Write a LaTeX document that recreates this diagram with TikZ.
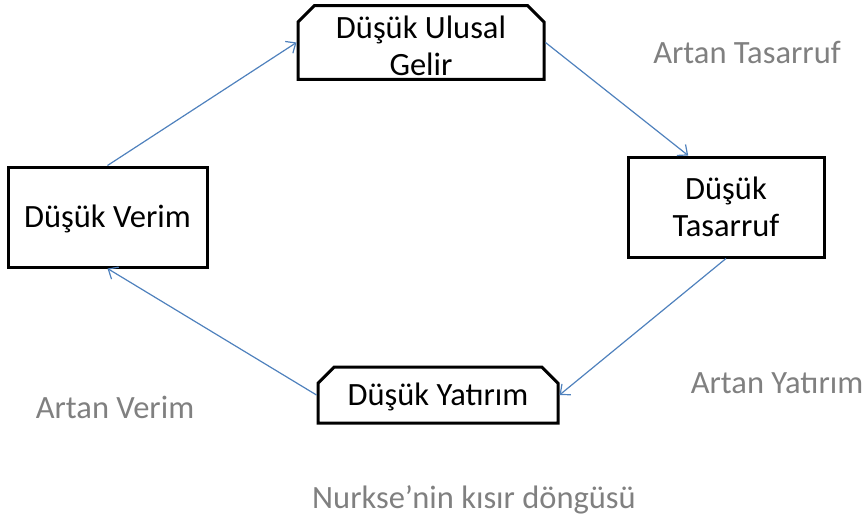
\documentclass[tikz,border=0pt]{standalone}
\usepackage{fontspec}
\setmainfont{Carlito}
\usetikzlibrary{shapes.misc,arrows.meta,calc}
\definecolor{arrowblue}{RGB}{79,129,189}
\definecolor{labelgray}{RGB}{128,128,128}
\begin{document}
\begin{tikzpicture}[x=1pt,y=-1pt,
  every node/.style={font=\fontsize{32.5}{37}\selectfont},
  plainbox/.style={draw=black,line width=3pt,rectangle,inner sep=0pt,align=center},
  chambox/.style={draw=black,line width=3pt,chamfered rectangle,
    chamfered rectangle corners={north west,north east},
    chamfered rectangle xsep=13pt,inner sep=0pt,align=center},
  flow/.style={draw=arrowblue,line width=1.2pt,-{Straight Barb[length=8pt,width=14pt,line width=1.2pt]}},
  graylabel/.style={text=labelgray,inner sep=0pt}]
\useasboundingbox (0,0) rectangle (867,522);
\node[chambox,minimum width=246pt,minimum height=71pt] (top) at (421,42.5) {\rule{0pt}{30pt}Düşük Ulusal\\Gelir};
\node[plainbox,minimum width=196pt,minimum height=100pt] (right) at (726,207) {Düşük\\Tasarruf};
\node[chambox,minimum width=240pt,minimum height=56pt] (bottom) at (438,395) {\rule{0pt}{26pt}Düşük Yatırım};
\node[plainbox,minimum width=199pt,minimum height=100pt] (left) at (107.5,217) {\rule{0pt}{26pt}Düşük Verim};
\coordinate (rin) at ($(right.north west)!0.31!(right.north east)$);
\draw[flow] (left.north) -- (top.west);
\draw[flow] (top.east) -- (rin);
\draw[flow] (right.south) -- (bottom.east);
\draw[flow] (bottom.west) -- (left.south);
\node[graylabel] (l1) at (747,52) {Artan Tasarruf};
\node[graylabel] (l2) at (777,383) {Artan Yatırım};
\node[graylabel] (l3) at (115,407) {Artan Verim};
\node[graylabel] (l4) at (474,500) {Nurkse’nin kısır döngüsü};
\end{tikzpicture}
\end{document}
